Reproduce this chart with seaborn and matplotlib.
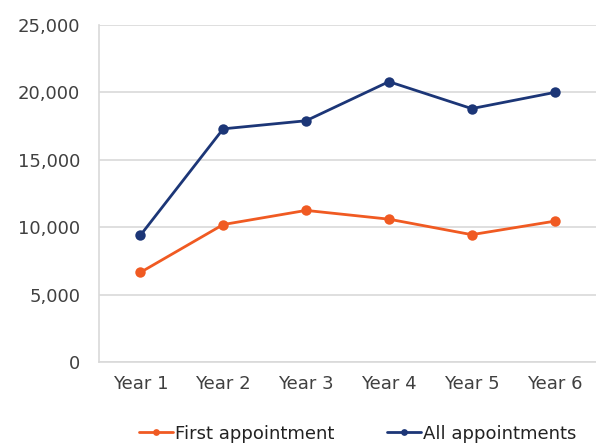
import pandas as pd
import matplotlib
matplotlib.use("Agg")
import matplotlib.pyplot as plt
import seaborn as sns
from matplotlib.ticker import FuncFormatter

years = ["Year 1", "Year 2", "Year 3", "Year 4", "Year 5", "Year 6"]
first_appt = [6650, 10200, 11250, 10600, 9450, 10450]
all_appts = [9400, 17300, 17900, 20800, 18800, 20000]

df = pd.DataFrame({"year": years,
                   "First appointment": first_appt,
                   "All appointments": all_appts})
long_df = df.melt(id_vars="year", var_name="series", value_name="count")

sns.set_theme(style="white")
plt.rcParams["font.family"] = ["DejaVu Sans"]

fig = plt.figure(figsize=(5.96, 4.47), dpi=100)
ax = fig.add_axes([0.166, 0.19, 0.834, 0.754])

palette = {"First appointment": "#F05A22", "All appointments": "#1C3677"}
sns.lineplot(data=long_df, x="year", y="count", hue="series", palette=palette,
             marker="o", markersize=7.5, markeredgewidth=0, linewidth=2.0,
             sort=False, ax=ax)

ax.set_ylim(0, 25000)
ax.set_yticks(range(0, 25001, 5000))
ax.yaxis.set_major_formatter(FuncFormatter(lambda v, p: f"{int(v):,}"))
ax.set_xlim(-0.5, 5.5)
ax.set_xlabel("")
ax.set_ylabel("")
ax.grid(axis="y", color="#d9d9d9", linewidth=1.2)
ax.set_axisbelow(True)
for side in ["top", "right"]:
    ax.spines[side].set_visible(False)
for side in ["left", "bottom"]:
    ax.spines[side].set_color("#d9d9d9")
    ax.spines[side].set_linewidth(1.2)
ax.tick_params(axis="y", labelsize=13, colors="#404040", length=0, pad=13.5)
ax.tick_params(axis="x", labelsize=13, colors="#404040", length=0, pad=9)

handles, labels = ax.get_legend_handles_labels()
ax.legend_.remove()
fig.legend(handles, labels, loc="center", bbox_to_anchor=(0.6, 0.03),
           ncol=2, frameon=False, fontsize=13, handlelength=1.9,
           columnspacing=2.9, handletextpad=0.1, markerscale=0.65,
           labelcolor="#222222")

fig.savefig("out.png", dpi=100)
